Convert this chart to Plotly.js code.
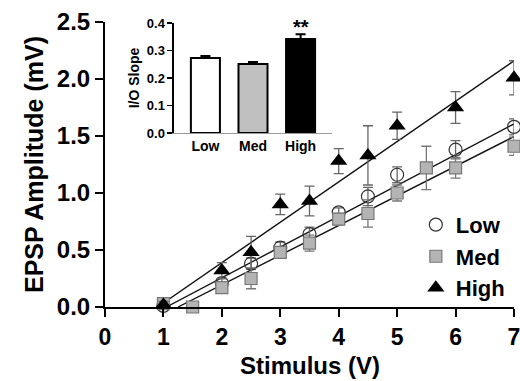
<!DOCTYPE html>
<html>
<head>
<meta charset="utf-8">
<script src="https://cdn.plot.ly/plotly-3.0.1.min.js"></script>
<style>html,body{margin:0;padding:0;background:#fff;}#chart{width:520px;height:381px;}</style>
</head>
<body>
<div id="chart"></div>
<script>
// ---- Main panel data (EPSP amplitude vs stimulus) ----
var stimLow  = [1, 2, 2.5, 3, 3.5, 4, 4.5, 5, 6, 7];
var lowAmp   = [0.01, 0.21, 0.38, 0.52, 0.64, 0.83, 0.97, 1.16, 1.38, 1.58];
var lowErr   = [0.02, 0.04, 0.05, 0.05, 0.06, 0.04, 0.08, 0.07, 0.08, 0.07];

var stimMed  = [1, 1.5, 2, 2.5, 3, 3.5, 4, 4.5, 5, 5.5, 6, 7];
var medAmp   = [0.03, 0.0, 0.17, 0.25, 0.48, 0.56, 0.77, 0.82, 1.00, 1.22, 1.22, 1.41];
var medErr   = [0.02, 0.0, 0.04, 0.09, 0.04, 0.07, 0.05, 0.12, 0.07, 0.19, 0.09, 0.08];

var stimHigh = [1, 2, 2.5, 3, 3.5, 4, 4.5, 5, 6, 7];
var highAmp  = [0.02, 0.32, 0.48, 0.90, 0.93, 1.28, 1.33, 1.59, 1.75, 2.01];
var highErr  = [0.03, 0.07, 0.14, 0.09, 0.13, 0.11, 0.26, 0.12, 0.14, 0.15];

// linear fits: slope and x-intercept, drawn up to stimulus maximum
var groups   = ['Low', 'Med', 'High'];
var fitSlope = [0.27, 0.26, 0.354];
var fitX0    = [1.05, 1.25, 0.90];
var fitXEnd  = 7;

// ---- Inset data (I/O slope) ----
var slopeVal = [0.273, 0.251, 0.342];
var slopeErr = [0.007, 0.007, 0.017];
var sigLabel = '**';

var xTitle = 'Stimulus (V)';
var yTitle = 'EPSP Amplitude (mV)';
var insetTitle = 'I/O Slope';

var FONT = 'Arial, "Liberation Sans", Helvetica, sans-serif';

var traces = [];
// fit lines
for (var i = 0; i < groups.length; i++) {
  traces.push({
    x: [fitX0[i], fitXEnd],
    y: [0, fitSlope[i] * (fitXEnd - fitX0[i])],
    mode: 'lines', type: 'scatter', showlegend: false, hoverinfo: 'skip',
    line: {color: '#111', width: 1.4}, cliponaxis: false
  });
}
traces.push({
  name: 'Low', x: stimLow, y: lowAmp, type: 'scatter', mode: 'markers', cliponaxis: false,
  marker: {symbol: 'circle', size: 13, color: 'rgba(255,255,255,0)', line: {color: '#333', width: 1.2}},
  error_y: {type: 'data', array: lowErr, color: '#666', thickness: 1.3, width: 5}
});
traces.push({
  name: 'Med', x: stimMed, y: medAmp, type: 'scatter', mode: 'markers', cliponaxis: false,
  marker: {symbol: 'square', size: 12, color: '#b4b4b4', line: {color: '#777', width: 1.2}},
  error_y: {type: 'data', array: medErr, color: '#777', thickness: 1.3, width: 5}
});
traces.push({
  name: 'High', x: stimHigh, y: highAmp, type: 'scatter', mode: 'markers', cliponaxis: false,
  marker: {symbol: 'triangle-up', size: 15, color: '#000', line: {color: '#000', width: 0}},
  error_y: {type: 'data', array: highErr, color: '#666', thickness: 1.3, width: 5}
});
// inset bars
traces.push({
  type: 'bar', x: [0, 1, 2], y: slopeVal, xaxis: 'x2', yaxis: 'y2', showlegend: false,
  width: 0.61,
  marker: {color: ['#ffffff', '#c0c0c0', '#000000'], line: {color: '#000', width: 2}},
  error_y: {type: 'data', symmetric: false, array: slopeErr, arrayminus: [0, 0, 0], color: '#000', thickness: 2, width: 5}
});

var layout = {
  width: 520, height: 381,
  margin: {l: 105, r: 6, t: 22, b: 74},
  paper_bgcolor: '#fff', plot_bgcolor: 'rgba(0,0,0,0)',
  font: {family: FONT, color: '#000'},
  showlegend: true,
  legend: {
    x: 0.76, y: 0.362, xanchor: 'left', yanchor: 'top',
    bgcolor: 'rgba(0,0,0,0)', borderwidth: 0,
    font: {family: FONT, size: 22, weight: 'bold', color: '#000'},
    itemwidth: 30, tracegroupgap: 0
  },
  xaxis: {
    domain: [0, 1], range: [0, 7], tickvals: [0, 1, 2, 3, 4, 5, 6, 7],
    showline: true, linecolor: '#000', linewidth: 2, mirror: false,
    ticks: 'outside', ticklen: 8, tickwidth: 2, tickcolor: '#000',
    showgrid: false, zeroline: false, automargin: false, ticklabeloverflow: 'allow',
    tickfont: {family: FONT, size: 23, weight: 'bold'}
  },
  yaxis: {
    domain: [0, 1], range: [0, 2.5], tickvals: [0, 0.5, 1, 1.5, 2, 2.5], tickformat: '.1f',
    showline: true, linecolor: '#000', linewidth: 2,
    ticks: 'outside', ticklen: 8, tickwidth: 2, tickcolor: '#000',
    showgrid: false, zeroline: false,
    tickfont: {family: FONT, size: 24, weight: 'bold'},
    title: {text: yTitle, font: {family: FONT, size: 25, weight: 'bold'}, standoff: 6}
  },
  xaxis2: {
    anchor: 'y2', domain: [0.1687, 0.555], range: [-0.66, 2.66],
    tickvals: [0, 1, 2], ticktext: groups,
    showline: true, linecolor: '#999', linewidth: 1,
    ticks: '', showgrid: false, zeroline: false,
    tickfont: {family: FONT, size: 14, weight: 'bold'}
  },
  yaxis2: {
    anchor: 'x2', domain: [0.6105, 0.9965], range: [0, 0.4], tickvals: [0, 0.1, 0.2, 0.3, 0.4], tickformat: '.1f',
    showline: true, linecolor: '#000', linewidth: 1.5,
    ticks: 'outside', ticklen: 5, tickwidth: 1.5, tickcolor: '#000',
    showgrid: false, zeroline: false,
    tickfont: {family: FONT, size: 13, weight: 'bold'},
    title: {text: insetTitle, font: {family: FONT, size: 14, weight: 'bold'}, standoff: 4}
  },
  annotations: [{
    xref: 'x2', yref: 'y2', x: 2, y: slopeVal[2] + slopeErr[2], yanchor: 'bottom',
    text: sigLabel, showarrow: false, yshift: -6,
    font: {family: FONT, size: 20, weight: 'bold', color: '#000'}
  }, {
    xref: 'paper', yref: 'paper', x: 0.5, y: -0.205, yanchor: 'middle', xanchor: 'center',
    text: xTitle, showarrow: false,
    font: {family: FONT, size: 24, weight: 'bold', color: '#000'}
  }]
};

Plotly.newPlot('chart', traces, layout, {staticPlot: true, displayModeBar: false});
</script>
</body>
</html>
